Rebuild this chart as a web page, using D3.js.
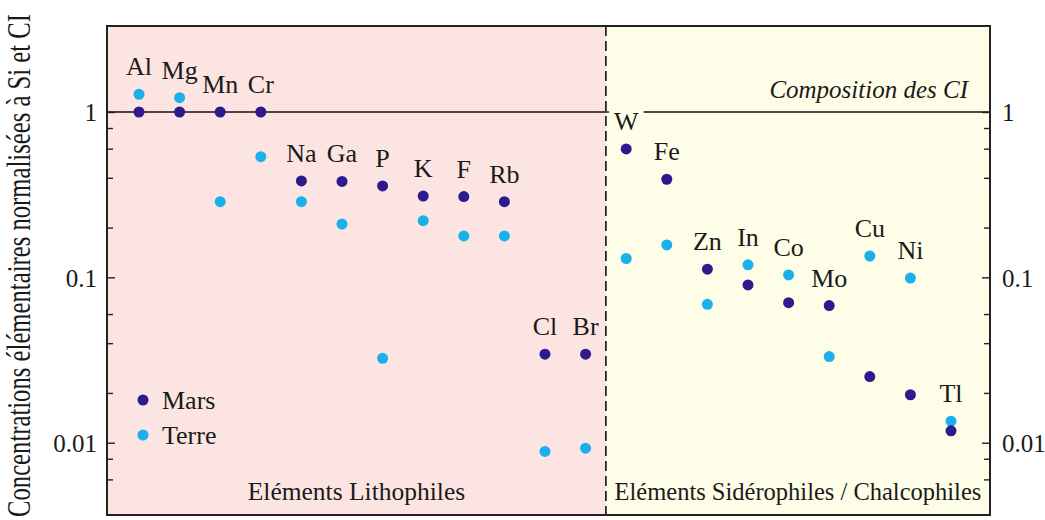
<!DOCTYPE html>
<html><head><meta charset="utf-8">
<script src="https://cdn.jsdelivr.net/npm/d3@7"></script>
<style>body{margin:0;background:#fff}svg{display:block}</style>
</head><body><svg id="c" width="1045" height="520"></svg>
<script>
const elements = ["Al","Mg","Mn","Cr","Na","Ga","P","K","F","Rb","Cl","Br","W","Fe","Zn","In","Co","Mo","Cu","Ni","Tl"];
const lithophiles = ["Al","Mg","Mn","Cr","Na","Ga","P","K","F","Rb","Cl","Br"];
const siderophiles = ["W","Fe","Zn","In","Co","Mo","Cu","Ni","Tl"];
const mars  = [1.0,1.0,1.0,1.0,0.383,0.38,0.357,0.31,0.308,0.287,0.0343,0.0343,0.598,0.392,0.112,0.090,0.0703,0.0675,0.0251,0.0195,0.0118];
const terre = [1.28,1.22,0.287,0.537,0.287,0.21,0.0324,0.22,0.178,0.178,0.00885,0.00926,0.130,0.157,0.0687,0.119,0.1035,0.0332,0.1346,0.099,0.0135];
const majorTicks = [1,0.1,0.01];
const majorLabels = ["1","0.1","0.01"];
const minorTicks = [0.8,0.6,0.4,0.2,0.06,0.04,0.02,0.008,0.006];
const seriesNames = ["Mars","Terre"];
const yTitle = "Concentrations élémentaires normalisées à Si et CI";
const groupLabels = ["Eléments Lithophiles","Eléments Sidérophiles / Chalcophiles"];
const refLabel = "Composition des CI";

const FONT = "\"Liberation Serif\", \"Times New Roman\", Tinos, serif";
const colors = {Mars:"#2d1a8c", Terre:"#1ab0ec"};
const bgL = "#fce4e2", bgR = "#fefde8";
const L=107, R=990, T=26, B=515;
const svg = d3.select("#c");
const x = d3.scalePoint().domain(elements).range([139,951]);
const y = d3.scaleLog().domain([0.01,1]).range([442.7,112]);
const divX = (x(lithophiles[lithophiles.length-1]) + x(siderophiles[0]))/2;
const txt = sel => sel.style("font-family",FONT).attr("fill","#1a1a1a");

svg.append("rect").attr("x",L).attr("y",T).attr("width",divX-L).attr("height",B-T).attr("fill",bgL);
svg.append("rect").attr("x",divX).attr("y",T).attr("width",R-divX).attr("height",B-T).attr("fill",bgR);

svg.append("line").attr("x1",L).attr("x2",R).attr("y1",y(1)).attr("y2",y(1)).attr("stroke","#111").attr("stroke-width",1.6);
svg.append("line").attr("x1",divX).attr("x2",divX).attr("y1",T).attr("y2",B).attr("stroke","#111").attr("stroke-width",1.6).attr("stroke-dasharray","10,5");

function styleAxis(g){g.attr("font-family",null);g.select(".domain").remove();g.selectAll("line").attr("stroke","#222").attr("stroke-width",1.4);
  g.selectAll("text").call(txt).style("font-size","25px");}
const fmt = d => majorLabels[majorTicks.indexOf(d)];
svg.append("g").attr("transform",`translate(${L},0)`).call(d3.axisLeft(y).tickValues(majorTicks).tickFormat(fmt).tickSize(-8).tickPadding(10)).call(styleAxis).selectAll("text").attr("dy","0.35em");
svg.append("g").attr("transform",`translate(${L},0)`).call(d3.axisLeft(y).tickValues(minorTicks).tickFormat("").tickSize(-6)).call(styleAxis);
svg.append("g").attr("transform",`translate(${R},0)`).call(d3.axisRight(y).tickValues(majorTicks).tickFormat(fmt).tickSize(-8).tickPadding(12)).call(styleAxis).selectAll("text").attr("dy","0.35em");
svg.append("g").attr("transform",`translate(${R},0)`).call(d3.axisRight(y).tickValues(minorTicks).tickFormat("").tickSize(-6)).call(styleAxis);

svg.append("rect").attr("x",L).attr("y",T).attr("width",R-L).attr("height",B-T).attr("fill","none").attr("stroke","#222").attr("stroke-width",2);

const data = elements.map((e,i)=>({e, m:mars[i], t:terre[i], left: lithophiles.includes(e)}));
svg.append("g").selectAll("text").data(data).join("text")
  .attr("x",d=>x(d.e)).attr("y",d=>y(Math.max(d.m,d.t))-19)
  .attr("text-anchor","middle").style("font-size","26px").call(txt)
  .attr("stroke",d=>d.left?bgL:bgR).attr("stroke-width",d=>d.e==="W"?10:5).attr("paint-order","stroke")
  .text(d=>d.e);

const series = [["Terre",terre],["Mars",mars]];
series.forEach(([name,vals])=>{
  svg.append("g").selectAll("circle").data(vals).join("circle")
    .attr("cx",(d,i)=>x(elements[i])).attr("cy",d=>y(d)).attr("r",5.5).attr("fill",colors[name]);
});

seriesNames.forEach((n,i)=>{
  svg.append("circle").attr("cx",143).attr("cy",400+i*35).attr("r",5.5).attr("fill",colors[n]);
  svg.append("text").attr("x",162).attr("y",409+i*35).style("font-size","26px").call(txt).text(n);
});

svg.append("text").attr("x",(L+divX)/2).attr("y",500).attr("text-anchor","middle").style("font-size","25.5px").call(txt).text(groupLabels[0]);
svg.append("text").attr("x",(divX+R)/2).attr("y",500).attr("text-anchor","middle").style("font-size","24.5px").call(txt).text(groupLabels[1]);
svg.append("text").attr("x",968).attr("y",98).attr("text-anchor","end").style("font-size","25px").style("font-style","italic").call(txt).text(refLabel);

svg.append("text").attr("transform","translate(30,517) rotate(-90) scale(1,1.4)")
  .attr("x",0).attr("y",0).style("font-size","24px").call(txt).attr("textLength",503).attr("lengthAdjust","spacingAndGlyphs").text(yTitle);
</script></body></html>
